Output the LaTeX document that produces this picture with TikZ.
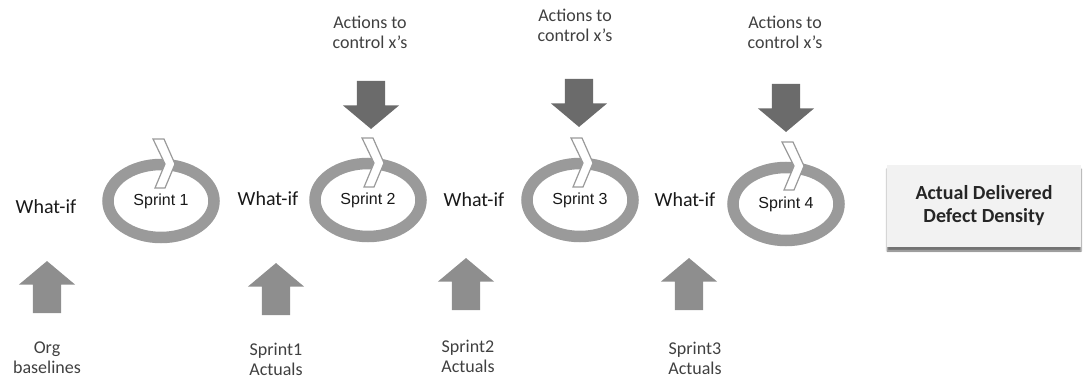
\documentclass[tikz,border=0pt]{standalone}
\usepackage{fontspec}
\setmainfont{Carlito}
\newfontfamily\arialfont{Liberation Sans}
\usetikzlibrary{shapes.geometric,shapes.arrows,shadows.blur}

\definecolor{ringgrau}{HTML}{9A9A9A}
\definecolor{pfeilhell}{HTML}{8E8E8E}
\definecolor{pfeildunkel}{HTML}{6B6B6B}
\definecolor{textgrau}{HTML}{404040}
\definecolor{boxgrau}{HTML}{F2F2F2}

\tikzset{
	ring/.style={ellipse, draw=ringgrau, line width=11.5pt, minimum width=106pt, minimum height=73pt, inner sep=0pt, text=black!90, font=\arialfont\fontsize{16}{18}\selectfont},
	zacke/.style={draw=ringgrau, fill=white, line width=1.2pt, line join=miter},
	wasif/.style={text=black!90, font=\fontsize{20}{22}\selectfont},
	beschriftung/.style={align=center, text=textgrau, font=\fontsize{18}{20}\selectfont},
	hochpfeil/.style={single arrow, shape border rotate=90, fill=pfeilhell, minimum height=52pt, single arrow head extend=14pt, single arrow tip angle=100, inner sep=14pt},
	runterpfeil/.style={single arrow, shape border rotate=270, fill=pfeildunkel, minimum height=48pt, single arrow head extend=14pt, single arrow tip angle=100, inner sep=14pt},
	zielbox/.style={rectangle, fill=boxgrau, minimum width=194pt, minimum height=82pt, align=center, text=black!85, font=\bfseries\fontsize{20}{23}\selectfont, blur shadow={shadow xshift=0pt, shadow yshift=-4pt, shadow blur radius=1.5pt, shadow opacity=55}}
}

\begin{document}
\begin{tikzpicture}[x=1pt, y=-1pt]
\useasboundingbox (0,0) rectangle (1083,379);

% Sprints
\node[ring] (s1) at (161,201) {Sprint 1};
\node[ring] (s2) at (368,200) {Sprint 2};
\node[ring] (s3) at (580,200) {Sprint 3};
\node[ring] (s4) at (786,204) {Sprint 4};

% Zacken auf den Ringen
\begin{scope}[shift={(s1.center)}]
	\draw[zacke] (-8,-62) -- (3,-62) -- (14,-37) -- (4,-13) -- (-6,-13) -- (4,-37) -- cycle;
\end{scope}
\begin{scope}[shift={(s2.center)}]
	\draw[zacke] (-6,-62) -- (5,-62) -- (16,-37) -- (6,-13) -- (-4,-13) -- (6,-37) -- cycle;
\end{scope}
\begin{scope}[shift={(s3.center)}]
	\draw[zacke] (-9,-62) -- (2,-62) -- (13,-37) -- (3,-13) -- (-7,-13) -- (3,-37) -- cycle;
\end{scope}
\begin{scope}[shift={(s4.center)}]
	\draw[zacke] (-4,-62) -- (7,-62) -- (18,-38) -- (8,-14) -- (-2,-14) -- (8,-38) -- cycle;
\end{scope}

% What-if
\node[wasif] (w1) at (46,207) {What-if};
\node[wasif] (w2) at (268,199) {What-if};
\node[wasif] (w3) at (474,200) {What-if};
\node[wasif] (w4) at (685,200) {What-if};

% Massnahmen oben
\node[beschriftung] (m2) at (370,32) {Actions to\\control x’s};
\node[beschriftung] (m3) at (575,25) {Actions to\\control x’s};
\node[beschriftung] (m4) at (785,32) {Actions to\\control x’s};
\node[runterpfeil] (r2) at (371,99) {};
\node[runterpfeil] (r3) at (579,97) {};
\node[runterpfeil] (r4) at (786,102) {};

% Eingaben unten
\node[hochpfeil] (h1) at (47,293) {};
\node[hochpfeil] (h2) at (276,295) {};
\node[hochpfeil] (h3) at (466,290) {};
\node[hochpfeil] (h4) at (689,290) {};
\node[beschriftung] (e1) at (47,358) {Org\\baselines};
\node[beschriftung] (e2) at (276,359) {Sprint1\\Actuals};
\node[beschriftung] (e3) at (468,356) {Sprint2\\Actuals};
\node[beschriftung] (e4) at (695,358) {Sprint3\\Actuals};

% Ergebnis
\node[zielbox] (ziel) at (984,206) {Actual Delivered\\Defect Density};
\end{tikzpicture}
\end{document}
